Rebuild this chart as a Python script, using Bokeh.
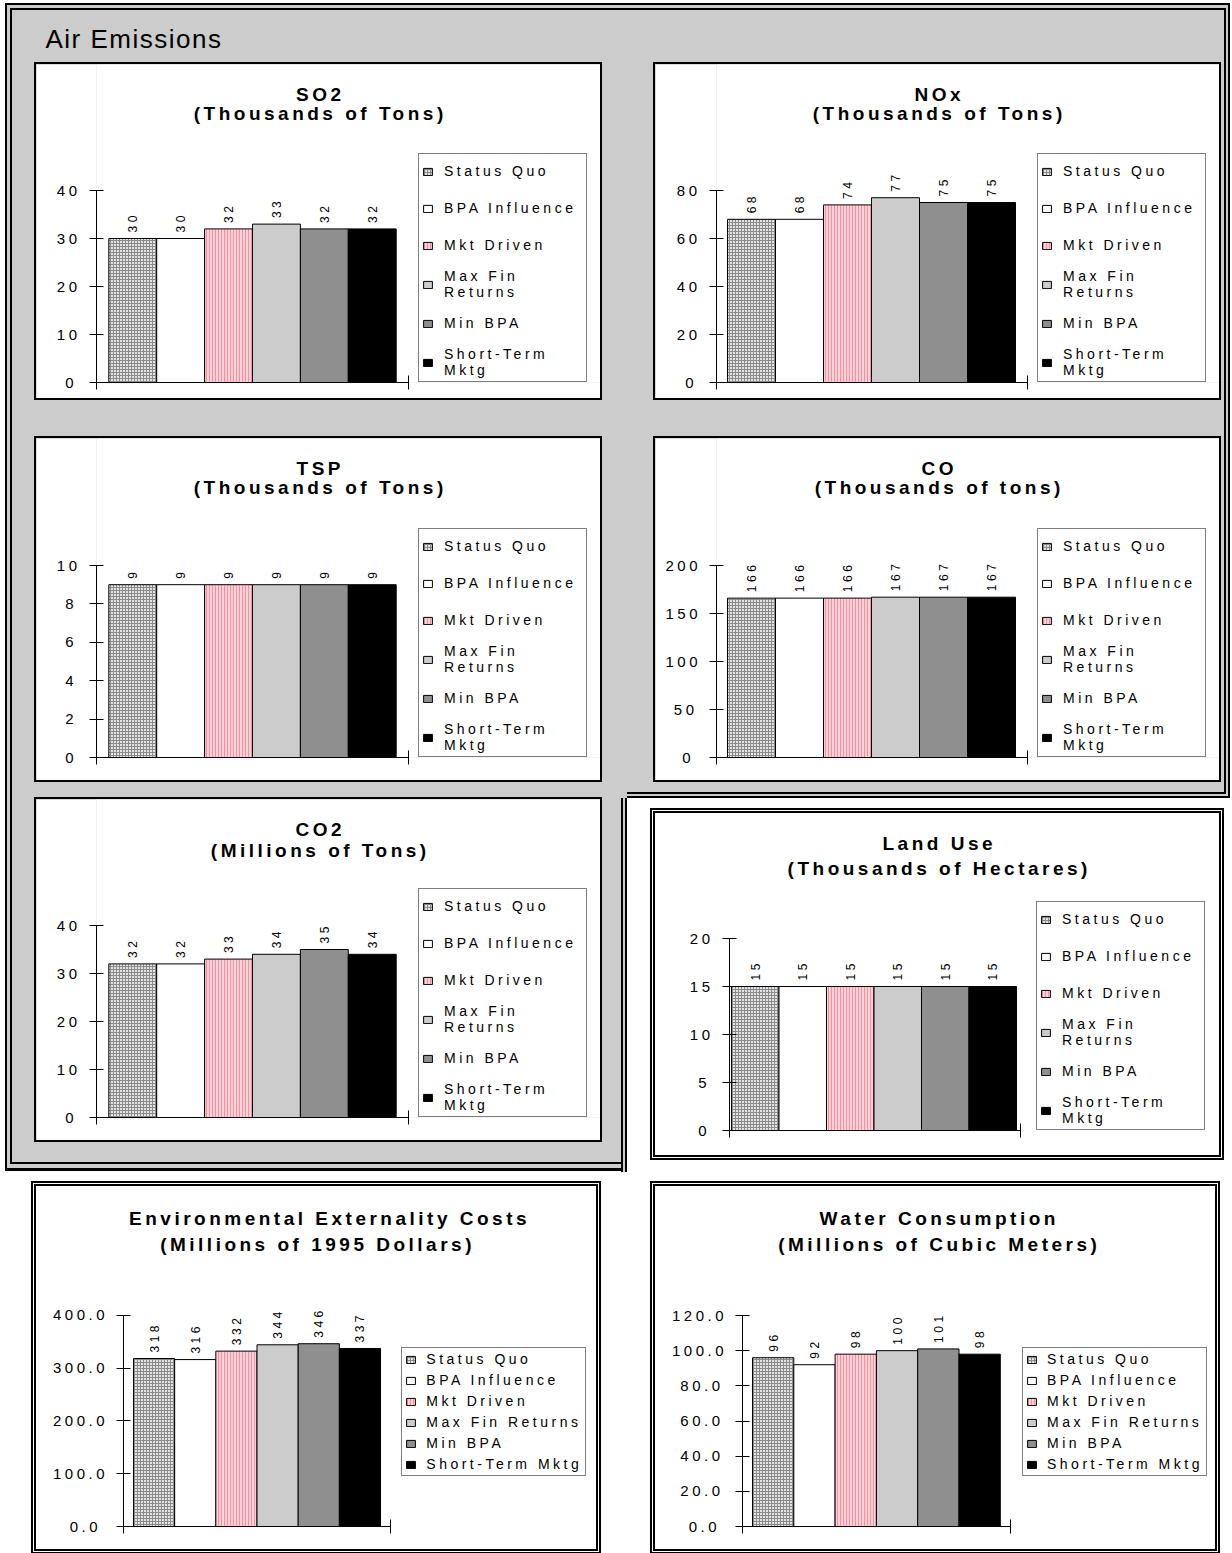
import math
from bokeh.plotting import figure
from bokeh.models import (Range1d, FixedTicker, Legend, LegendItem, Label, LabelSet,
                          ColumnDataSource, CustomJSTickFormatter, NumeralTickFormatter, Spacer)
from bokeh.layouts import column, row
from bokeh.core.properties import value
from bokeh.embed import file_html
from bokeh.resources import INLINE

# ---------------- data ----------------
scenarios = ["Status Quo", "BPA Influence", "Mkt Driven", "Max Fin Returns", "Min BPA", "Short-Term Mktg"]
legend_wrapped = ["Status Quo", "BPA Influence", "Mkt Driven", "Max Fin\nReturns", "Min BPA", "Short-Term\nMktg"]

so2 = [30, 30, 32, 33, 32, 32]
nox = [68, 68, 74, 77, 75, 75]
tsp = [9, 9, 9, 9, 9, 9]
co = [166, 166, 166, 167, 167, 167]
co2 = [32, 32, 33, 34, 35, 34]
land = [15, 15, 15, 15, 15, 15]
env = [318, 316, 332, 344, 346, 337]
water = [96, 92, 98, 100, 101, 98]

so2_ticks = [0, 10, 20, 30, 40]
nox_ticks = [0, 20, 40, 60, 80]
tsp_ticks = [0, 2, 4, 6, 8, 10]
co_ticks = [0, 50, 100, 150, 200]
co2_ticks = [0, 10, 20, 30, 40]
land_ticks = [0, 5, 10, 15, 20]
env_ticks = [0, 100, 200, 300, 400]
water_ticks = [0, 20, 40, 60, 80, 100, 120]

# ---------------- styles ----------------
FILLS = ["#e4e4e4", "#ffffff", "#ffd3da", "#cccccc", "#8f8f8f", "#000000"]
HATCHES = ["+", " ", "|", " ", " ", " "]
HATCH_COLORS = ["#8a8a8a", "#000000", "#ff8c9e", "#000000", "#000000", "#000000"]
FONT = "Liberation Sans"
GRAY = "#cccccc"
LS = 3.5  # letter spacing (px)


def inset_frame(sides):
    """sides: dict side -> list of (depth, colour), outermost first; interleaved by level."""
    fmt = {"left": "inset {d}px 0 0 0 {c}", "right": "inset -{d}px 0 0 0 {c}",
           "top": "inset 0 {d}px 0 0 {c}", "bottom": "inset 0 -{d}px 0 0 {c}"}
    out = []
    n = max(len(v) for v in sides.values())
    for i in range(n):
        for s, layers in sides.items():
            if i < len(layers):
                d, c = layers[i]
                out.append(fmt[s].format(d=d, c=c))
    return ", ".join(out)


def make_panel(vals, ticks, fmt, t1, t2, geo, leg_labels, leg):
    fx, fy, fw, fh = geo["fig"]
    ax = geo["axis_x"] - fx
    fb = geo["y0"] - fy
    ppu = (geo["y0"] - geo["ytop"]) / ticks[-1]
    bw = geo["bar_w"]
    x0 = -0.5 - (geo["bars_left"] - geo["axis_x"]) / bw
    x1 = x0 + (fw - ax) / bw
    xend = x0 + (geo["axis_end"] - geo["axis_x"]) / bw
    p = figure(width=fw, height=fh, x_range=Range1d(x0, x1), y_range=Range1d(0, fb / ppu),
               min_border_left=int(round(ax)), min_border_right=0, min_border_top=0,
               min_border_bottom=int(round(fh - fb)),
               output_backend="svg", toolbar_location=None, outline_line_color=None,
               background_fill_color="white", border_fill_color="white",
               styles={"outline": geo["outline"], "letter-spacing": f"{LS}px"})
    p.xgrid.visible = False
    p.ygrid.visible = False
    src = ColumnDataSource(dict(x=list(range(len(vals))), top=vals, fill=FILLS, hatch=HATCHES,
                                hcolor=HATCH_COLORS, label=[str(v) for v in vals]))
    r = p.vbar(x="x", top="top", width=1, source=src, fill_color="fill", line_color="black",
               line_width=1, hatch_pattern="hatch", hatch_color="hcolor", hatch_scale=3, hatch_weight=1)
    p.add_layout(LabelSet(x="x", y="top", text="label", source=src, angle=math.pi / 2,
                          text_align="left", text_baseline="middle", y_offset=6,
                          text_font=value(FONT), text_font_size="12px", text_color="black"))
    # axes
    tick_text = [f"{t:.1f}" if fmt == "0.0" else str(t) for t in ticks]
    maxlen = max(len(s) for s in tick_text)
    ya = p.yaxis[0]
    ya.ticker = FixedTicker(ticks=ticks)
    ya.bounds = (0, ticks[-1])
    ya.formatter = NumeralTickFormatter(format=fmt)
    ya.major_tick_in = 7
    ya.major_tick_out = 7
    ya.minor_tick_line_color = None
    ya.major_label_standoff = int(round(12 + LS * (maxlen - 1)))
    ya.major_label_text_font = FONT
    ya.major_label_text_font_size = "15px"
    ya.major_label_text_color = "black"
    ya.axis_line_color = "black"
    ya.major_tick_line_color = "black"
    xa = p.xaxis[0]
    xa.ticker = FixedTicker(ticks=[x0, xend])
    xa.bounds = (x0, xend)
    xa.formatter = CustomJSTickFormatter(code="return ''")
    xa.major_label_text_font_size = "1px"
    xa.major_label_standoff = 0
    xa.major_tick_in = 7
    xa.major_tick_out = 7
    xa.minor_tick_line_color = None
    xa.axis_line_color = "black"
    xa.major_tick_line_color = "black"
    # titles (two lines)
    for txt, ty, tcx in ((t1, geo["t1"], geo.get("t1_cx", geo["title_cx"])),
                         (t2, geo["t2"], geo["title_cx"])):
        p.add_layout(Label(x=tcx - geo["axis_x"], y=geo["y0"] - ty, x_units="screen", y_units="screen",
                           text=txt, x_offset=-LS * (len(txt) - 1) / 2,
                           text_align="center", text_baseline="middle", text_font=FONT,
                           text_font_style="bold", text_font_size="19px", text_color="black"))
    # legend
    ll, lt, lr, lb = geo["legend"]
    items = [LegendItem(label=l, renderers=[r], index=i) for i, l in enumerate(leg_labels)]
    lg = Legend(items=items, location=(ll - geo["axis_x"], geo["y0"] - lb), margin=0,
                border_line_color="black", border_line_width=1, background_fill_color="white",
                background_fill_alpha=1, label_text_font=FONT, label_text_font_size="14px",
                label_text_color="black", **leg)
    p.add_layout(lg)
    return p


top_leg = dict(padding=3, spacing=9, glyph_width=11, glyph_height=9, label_standoff=11,
               label_width=139, label_height=28)
bot_leg = dict(padding=3, spacing=5, glyph_width=11, glyph_height=9, label_standoff=10,
               label_width=154, label_height=16)

SOLID = "2px solid #000"
DOUBLE = "5px double #000"
G_SO2 = dict(fig=(36, 64, 564, 334), axis_x=96, y0=382, ytop=190, bars_left=108.3, bar_w=47.9,
             axis_end=407.7, legend=(418, 160, 585, 382), title_cx=318, t1=93.5, t2=112.5, outline=SOLID)
G_NOX = dict(fig=(655, 64, 564, 334), axis_x=716, y0=382, ytop=190, bars_left=727, bar_w=48,
             axis_end=1027, legend=(1037, 160, 1203, 382), title_cx=937, t1=93.5, t2=112.5, outline=SOLID)
G_TSP = dict(fig=(36, 438, 564, 342), axis_x=96, y0=757, ytop=565, bars_left=108.3, bar_w=47.9,
             axis_end=407.7, legend=(418, 534, 585, 757), title_cx=318, t1=467.5, t2=486.5, outline=SOLID)
G_CO = dict(fig=(655, 438, 564, 342), axis_x=716, y0=757, ytop=565, bars_left=727, bar_w=48,
            axis_end=1027, legend=(1037, 534, 1203, 757), title_cx=937, t1=467.5, t2=486.5, outline=SOLID)
G_CO2 = dict(fig=(36, 799, 564, 341), axis_x=96, y0=1117, ytop=925, bars_left=108.3, bar_w=47.9,
             axis_end=407.7, legend=(418, 894, 585, 1117), title_cx=318, t1=829, t2=850, outline=SOLID)
G_LAND = dict(fig=(655, 813, 564, 342), axis_x=729, y0=1130, ytop=938, bars_left=731, bar_w=47.5,
              axis_end=1020, legend=(1036, 910, 1212, 1130), title_cx=937, t1=843, t2=868, outline=DOUBLE)
G_ENV = dict(fig=(36, 1186, 560, 363), axis_x=122.7, y0=1526, ytop=1314.7, bars_left=132.7, bar_w=41.2,
             axis_end=390, legend=(401, 1350, 582, 1476), title_cx=315, t1_cx=327, t1=1218, t2=1244,
             outline=DOUBLE)
G_WATER = dict(fig=(655, 1186, 560, 363), axis_x=742, y0=1526, ytop=1315, bars_left=752, bar_w=41.3,
               axis_end=1010, legend=(1022, 1350, 1200, 1476), title_cx=937, t1=1218, t2=1244, outline=DOUBLE)

so2_p = make_panel(so2, so2_ticks, "0", "SO2", "(Thousands of Tons)", G_SO2, legend_wrapped, top_leg)
nox_p = make_panel(nox, nox_ticks, "0", "NOx", "(Thousands of Tons)", G_NOX, legend_wrapped, top_leg)
tsp_p = make_panel(tsp, tsp_ticks, "0", "TSP", "(Thousands of Tons)", G_TSP, legend_wrapped, top_leg)
co_p = make_panel(co, co_ticks, "0", "CO", "(Thousands of tons)", G_CO, legend_wrapped, top_leg)
co2_p = make_panel(co2, co2_ticks, "0", "CO2", "(Millions of Tons)", G_CO2, legend_wrapped, top_leg)
land_p = make_panel(land, land_ticks, "0", "Land Use", "(Thousands of Hectares)", G_LAND, legend_wrapped, top_leg)
env_p = make_panel(env, env_ticks, "0.0", "Environmental Externality Costs", "(Millions of 1995 Dollars)",
                   G_ENV, scenarios, bot_leg)
water_p = make_panel(water, water_ticks, "0.0", "Water Consumption", "(Millions of Cubic Meters)",
                     G_WATER, scenarios, bot_leg)

# header strip with the group title
head = figure(width=615, height=52, x_range=Range1d(0, 1), y_range=Range1d(0, 1),
              x_axis_type=None, y_axis_type=None, min_border=0, output_backend="svg",
              toolbar_location=None, outline_line_color=None, background_fill_color=GRAY,
              border_fill_color=GRAY, styles={"letter-spacing": "1.5px"})
head.xgrid.visible = False
head.ygrid.visible = False
head.add_layout(Label(x=33, y=24, x_units="screen", y_units="screen", text="Air Emissions",
                      text_align="left", text_baseline="alphabetic", text_font=FONT,
                      text_font_size="26px", text_color="black"))


def sp(w, h):
    return Spacer(width=w, height=h)


W_L, W_R = 627, 605
left_gray = column(
    sp(W_L, 10),
    row(sp(12, 52), head),
    sp(W_L, 2),
    row(sp(36, 334), so2_p, sp(27, 334)),
    sp(W_L, 40),
    row(sp(36, 342), tsp_p, sp(27, 342)),
    sp(W_L, 19),
    row(sp(36, 341), co2_p, sp(27, 341)),
    sp(W_L, 32),
    styles={"background-color": GRAY,
            "box-shadow": inset_frame({
                "left": [(5, "#fff"), (7, "#000"), (10, GRAY), (12, "#000")],
                "top": [(3, "#fff"), (5, "#000"), (8, GRAY), (10, "#000")],
                "bottom": [(1, "#fff"), (4, "#000"), (8, GRAY), (10, "#000")]})},
)
right_gray = column(
    sp(W_R, 64),
    row(sp(28, 334), nox_p, sp(13, 334)),
    sp(W_R, 40),
    row(sp(28, 342), co_p, sp(13, 342)),
    sp(W_R, 18),
    styles={"background-color": GRAY,
            "box-shadow": inset_frame({
                "right": [(2, "#fff"), (4, "#000"), (6, GRAY), (8, "#000")],
                "top": [(3, "#fff"), (5, "#000"), (8, GRAY), (10, "#000")],
                "bottom": [(2, "#000"), (4, GRAY), (6, "#000")]})},
)
land_wrap = column(
    sp(W_R, 15),
    row(sp(28, 342), land_p, sp(13, 342)),
    sp(W_R, 17),
    styles={"box-shadow": "-2px 0 0 0 #000, -4px 0 0 0 %s, -6px 0 0 0 #000" % GRAY},
)
top_block = row(left_gray, column(right_gray, land_wrap))
bottom_block = row(
    column(sp(W_L, 14), row(sp(36, 363), env_p, sp(31, 363)), sp(W_L, 4)),
    column(sp(W_R, 14), row(sp(28, 363), water_p, sp(17, 363)), sp(W_R, 4)),
)
root = column(top_block, bottom_block)

open("out.html", "w").write(file_html(root, INLINE))
